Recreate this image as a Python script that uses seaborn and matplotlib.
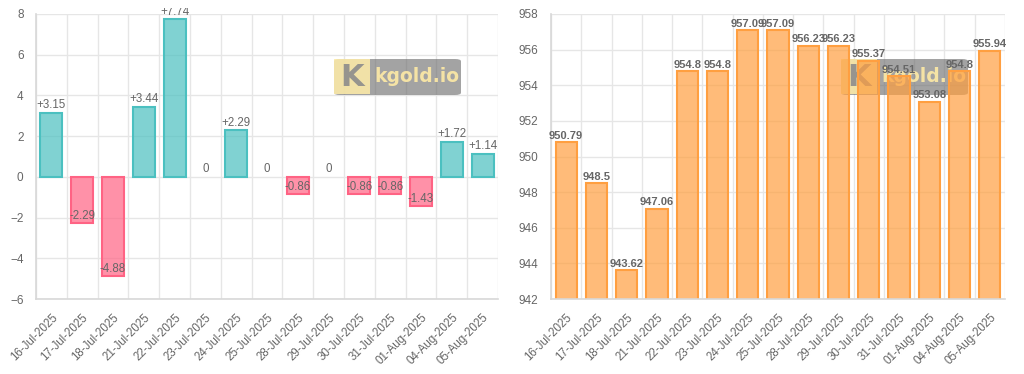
import numpy as np
import matplotlib.pyplot as plt
import seaborn as sns
from matplotlib.patches import FancyBboxPatch, Rectangle
from matplotlib.transforms import Bbox, TransformedBbox

dates = ["16-Jul-2025", "17-Jul-2025", "18-Jul-2025", "21-Jul-2025", "22-Jul-2025",
         "23-Jul-2025", "24-Jul-2025", "25-Jul-2025", "28-Jul-2025", "29-Jul-2025",
         "30-Jul-2025", "31-Jul-2025", "01-Aug-2025", "04-Aug-2025", "05-Aug-2025"]
changes = [3.15, -2.29, -4.88, 3.44, 7.74, 0, 2.29, 0, -0.86, 0, -0.86, -0.86, -1.43, 1.72, 1.14]
prices = [950.79, 948.5, 943.62, 947.06, 954.8, 954.8, 957.09, 957.09, 956.23, 956.23,
          955.37, 954.51, 953.08, 954.8, 955.94]

change_ticks = [-6, -4, -2, 0, 2, 4, 6, 8]
price_ticks = [942, 944, 946, 948, 950, 952, 954, 956, 958]

TEAL = (75 / 255, 192 / 255, 192 / 255)
PINK = (255 / 255, 99 / 255, 132 / 255)
ORANGE = (255 / 255, 159 / 255, 64 / 255)
GRID = "#e6e6e6"
TEXT = "#666666"

sns.set_style("white")
plt.rcParams["font.family"] = ["Liberation Sans", "DejaVu Sans"]

W, H = 1024, 374
fig = plt.figure(figsize=(W / 100, H / 100), dpi=100)
ax1 = fig.add_axes([36 / W, 1 - 299 / H, 462 / W, 285 / H])
ax2 = fig.add_axes([551 / W, 1 - 299 / H, 454 / W, 285 / H])

# the canvas cuts text off a few pixels below the top edge
canvas_clip = TransformedBbox(Bbox([[0, 0], [1, 1 - 8 / H]]), fig.transFigure)


def style_axes(ax, yticks):
    n = len(dates)
    ax.set_xlim(-0.5, n - 0.5)
    ax.set_ylim(yticks[0], yticks[-1])
    ax.set_yticks(yticks)
    ax.set_xticks(range(n))
    ax.set_xticks(np.arange(n + 1) - 0.5, minor=True)
    ax.set_xticklabels(dates, rotation=45, ha="right", rotation_mode="anchor")
    ax.tick_params(axis="x", which="major", length=0, pad=9, labelsize=8.3, labelcolor=TEXT)
    ax.tick_params(axis="x", which="minor", length=8, color=GRID, width=1)
    ax.tick_params(axis="y", length=6, color=GRID, pad=3, labelsize=8.5, labelcolor=TEXT)
    ax.grid(False)
    ax.grid(True, axis="x", which="minor", color=GRID, lw=1)
    ax.grid(True, axis="y", which="major", color=GRID, lw=1)
    ax.set_axisbelow(True)
    for s in ["top", "right"]:
        ax.spines[s].set_visible(False)
    for s in ["left", "bottom"]:
        ax.spines[s].set_color("#d8d8d8")
        ax.spines[s].set_linewidth(1.2)
    ax.set_xlabel("")
    ax.set_ylabel("")


def soften_bars(ax, values):
    for p in ax.patches:
        i = int(round(p.get_x() + p.get_width() / 2))
        c = p.get_facecolor()
        p.set_facecolor((c[0], c[1], c[2], 0.7))
        p.set_edgecolor((c[0], c[1], c[2], 1.0))
        p.set_linewidth(1.5 if values[i] != 0 else 0)
        p.set_zorder(2)


def watermark(ax, x0, y0):
    # x0, y0 = top-left corner in pixels
    tr = fig.transFigure
    box = FancyBboxPatch(((x0 + 2) / W, 1 - (y0 + 38) / H), 127 / W, 36 / H,
                         boxstyle="round,pad=0,rounding_size=0.006",
                         transform=tr, facecolor=(0.4, 0.4, 0.4, 0.6),
                         edgecolor="none", zorder=1, clip_on=False)
    ax.add_patch(box)
    sq = Rectangle(((x0 + 2) / W, 1 - (y0 + 37) / H), 36 / W, 35 / H, transform=tr,
                   facecolor=(1.0, 0.93, 0.66, 0.85), edgecolor="none", zorder=1.1,
                   clip_on=False)
    ax.add_patch(sq)
    ax.text((x0 + 20) / W, 1 - (y0 + 20) / H, "K", transform=tr, ha="center", va="center",
            fontsize=22, fontweight="bold", color=(0.55, 0.55, 0.55, 0.9),
            family="DejaVu Sans", zorder=1.2, clip_on=False)
    ax.text((x0 + 42) / W, 1 - (y0 + 20) / H, "kgold.io", transform=tr, ha="left",
            va="center", fontsize=13.5, fontweight="bold",
            color=(1.0, 0.92, 0.65, 0.9), family="DejaVu Sans", zorder=1.2, clip_on=False)


# left: daily change
signs = ["down" if v < 0 else "up" for v in changes]
sns.barplot(x=dates, y=changes, hue=signs, palette={"up": TEAL, "down": PINK},
            order=dates, width=0.72, saturation=1, legend=False, ax=ax1)
soften_bars(ax1, changes)
style_axes(ax1, change_ticks)
for i, v in enumerate(changes):
    lab = f"+{v:g}" if v > 0 else f"{v:g}"
    t = ax1.annotate(lab, (i, v), xytext=(0, 1), textcoords="offset points", ha="center",
                     va="bottom", fontsize=8.3, color=TEXT, zorder=3, annotation_clip=False)
    t.set_clip_on(True)
    t.set_clip_box(canvas_clip)
watermark(ax1, 332, 57)

# right: price
sns.barplot(x=dates, y=prices, color=ORANGE, order=dates, width=0.7, saturation=1, ax=ax2)
soften_bars(ax2, prices)
style_axes(ax2, price_ticks)
for i, v in enumerate(prices):
    ax2.annotate(f"{v:g}", (i, v), xytext=(0, 1), textcoords="offset points", ha="center",
                 va="bottom", fontsize=8, fontweight="bold", color=TEXT, zorder=3)
watermark(ax2, 839, 57)

fig.savefig("out.png", dpi=100)
